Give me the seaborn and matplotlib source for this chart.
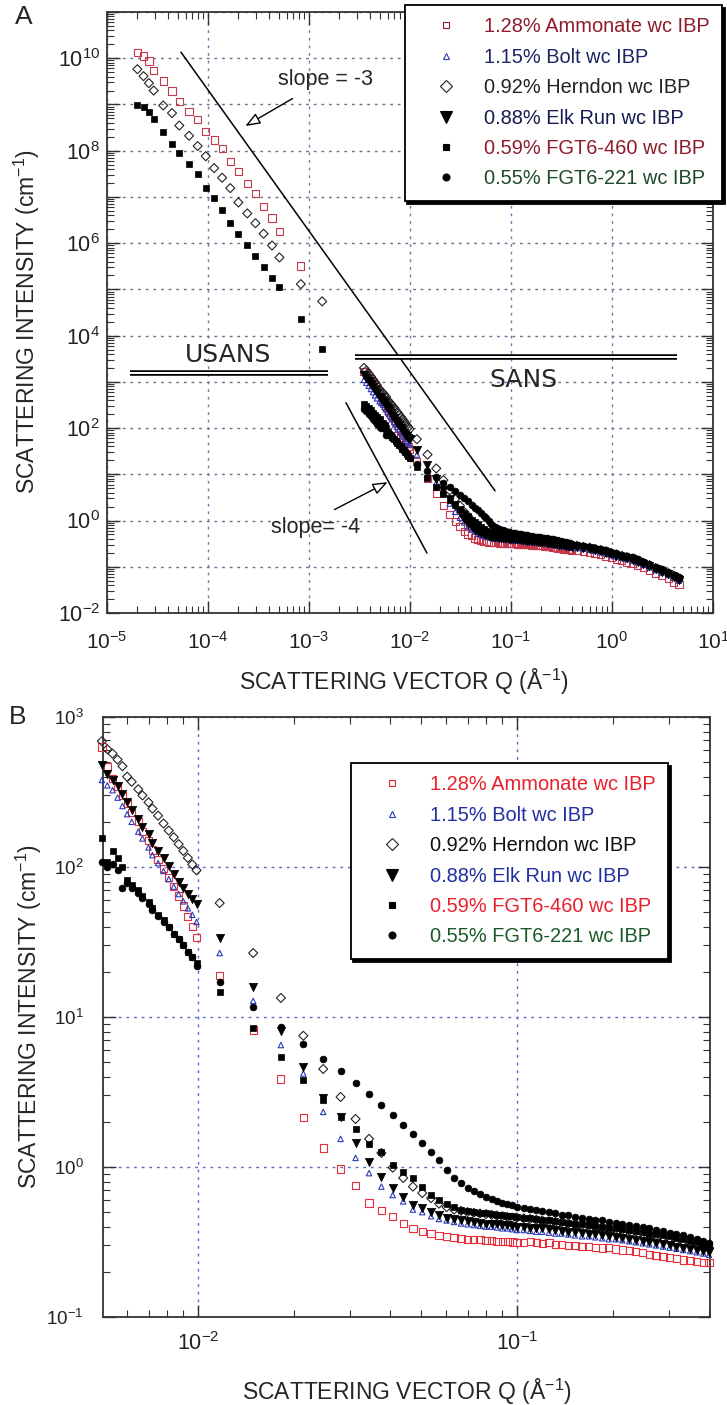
import numpy as np
import pandas as pd
import matplotlib
matplotlib.use("Agg")
import matplotlib.pyplot as plt
import matplotlib.ticker as mticker
from matplotlib.lines import Line2D
import seaborn as sns

# ---------------- data ----------------
series_names = ["1.28% Ammonate wc IBP", "1.15% Bolt wc IBP", "0.92% Herndon wc IBP",
                "0.88% Elk Run wc IBP", "0.59% FGT6-460 wc IBP", "0.55% FGT6-221 wc IBP"]

# SANS scattering vector (1/A) shared by all samples (panel B range)
q_sans = [0.0050, 0.0052, 0.0054, 0.0056, 0.0058, 0.0060, 0.0062, 0.0065, 0.0067, 0.0070,
          0.0072, 0.0075, 0.0078, 0.0081, 0.0084, 0.0087, 0.0090, 0.0093, 0.0096, 0.0099,
          0.0117, 0.0149, 0.0182, 0.0214, 0.0247, 0.0280, 0.0312, 0.0344, 0.0376, 0.0408,
          0.0440, 0.0472, 0.0505, 0.0538, 0.0570, 0.0602, 0.0635, 0.0668, 0.0700, 0.0733,
          0.0766, 0.0800, 0.0833, 0.0866, 0.0900, 0.0933, 0.0966, 0.1000,
          0.105, 0.110, 0.115, 0.120, 0.126, 0.132, 0.138, 0.145, 0.152, 0.160,
          0.168, 0.176, 0.185, 0.194, 0.204, 0.214, 0.225, 0.236, 0.248, 0.260,
          0.273, 0.287, 0.301, 0.316, 0.332, 0.349, 0.366, 0.384, 0.400]

ammonate_sans = [630, 470, 390, 345, 300, 265, 230, 200, 172, 150, 130, 112, 98, 85, 74, 64, 55, 47, 40, 34,
                 19, 8.2, 3.86, 2.15, 1.34, 0.97, 0.75, 0.575, 0.51, 0.47, 0.42, 0.39, 0.37, 0.36, 0.35,
                 0.345, 0.34, 0.335, 0.33, 0.33, 0.327, 0.325, 0.322, 0.32, 0.318, 0.317, 0.316, 0.315,
                 0.315, 0.318, 0.312, 0.31, 0.312, 0.305, 0.303, 0.30, 0.298, 0.295, 0.296, 0.29, 0.288,
                 0.29, 0.284, 0.28, 0.277, 0.272, 0.27, 0.262, 0.258, 0.252, 0.25, 0.244, 0.24, 0.238,
                 0.235, 0.232, 0.23]
bolt_sans = [380, 350, 325, 290, 255, 225, 200, 172, 155, 135, 120, 106, 94, 83, 74, 66, 59, 53, 48, 43,
             26.7, 12.8, 6.5, 4.2, 2.33, 1.54, 1.15, 0.91, 0.74, 0.65, 0.59, 0.52, 0.50, 0.47, 0.45,
             0.44, 0.43, 0.42, 0.415, 0.41, 0.405, 0.40, 0.40, 0.395, 0.39, 0.39, 0.385, 0.38,
             0.38, 0.375, 0.37, 0.37, 0.365, 0.36, 0.36, 0.355, 0.35, 0.345, 0.345, 0.34, 0.335,
             0.33, 0.33, 0.325, 0.32, 0.315, 0.31, 0.305, 0.30, 0.295, 0.29, 0.285, 0.28, 0.275,
             0.27, 0.265, 0.26]
herndon_sans = [690, 610, 570, 520, 470, 400, 370, 330, 300, 270, 245, 220, 195, 175, 158, 142, 128, 115, 104, 95,
                57.5, 26.7, 13.4, 7.5, 4.5, 2.93, 2.09, 1.54, 1.24, 0.99, 0.845, 0.74, 0.67, 0.62, 0.57,
                0.54, 0.52, 0.51, 0.50, 0.495, 0.49, 0.485, 0.48, 0.475, 0.47, 0.465, 0.46, 0.46,
                0.455, 0.45, 0.445, 0.44, 0.435, 0.43, 0.425, 0.42, 0.415, 0.41, 0.405, 0.40, 0.395,
                0.39, 0.385, 0.38, 0.375, 0.37, 0.36, 0.355, 0.35, 0.34, 0.335, 0.325, 0.32, 0.31,
                0.305, 0.30, 0.29]
elkrun_sans = [480, 420, 380, 345, 305, 270, 240, 210, 185, 165, 145, 128, 114, 102, 90, 80, 72, 66, 61, 57,
               33.6, 15.8, 8.1, 4.65, 2.9, 2.15, 1.45, 1.08, 0.86, 0.72, 0.63, 0.56, 0.53, 0.50, 0.48,
               0.46, 0.45, 0.44, 0.435, 0.43, 0.425, 0.42, 0.42, 0.415, 0.41, 0.41, 0.405, 0.40,
               0.40, 0.395, 0.39, 0.39, 0.385, 0.38, 0.375, 0.37, 0.37, 0.365, 0.36, 0.355, 0.35,
               0.345, 0.34, 0.335, 0.33, 0.325, 0.32, 0.315, 0.31, 0.305, 0.30, 0.295, 0.29, 0.285,
               0.28, 0.275, 0.27]
fgt460_sans = [155, 108, 128, 115, 100, 82, 76, 70, 64, 58, 53, 48, 44, 40, 36, 33, 30, 27, 25, 23,
               14.7, 8.45, 5.4, 3.8, 2.8, 2.15, 1.79, 1.42, 1.26, 1.03, 0.93, 0.845, 0.74, 0.65, 0.60,
               0.57, 0.54, 0.52, 0.51, 0.50, 0.495, 0.49, 0.485, 0.48, 0.475, 0.47, 0.47, 0.465,
               0.46, 0.455, 0.45, 0.445, 0.44, 0.435, 0.43, 0.425, 0.42, 0.415, 0.41, 0.405, 0.40,
               0.395, 0.39, 0.385, 0.38, 0.375, 0.37, 0.36, 0.355, 0.35, 0.345, 0.335, 0.33, 0.32,
               0.315, 0.305, 0.30]
fgt221_sans = [108, 100, 104, 96, 72, 78, 72, 67, 62, 57, 52, 47, 43, 40, 36, 33, 30, 27, 25, 22,
               17.1, 11.7, 8.6, 6.6, 5.25, 4.37, 3.63, 3.07, 2.59, 2.22, 1.9, 1.66, 1.45, 1.26, 1.11,
               0.96, 0.85, 0.78, 0.72, 0.69, 0.66, 0.63, 0.61, 0.59, 0.575, 0.565, 0.555, 0.545,
               0.535, 0.525, 0.515, 0.51, 0.50, 0.49, 0.48, 0.475, 0.465, 0.46, 0.45, 0.445, 0.44,
               0.43, 0.425, 0.42, 0.41, 0.405, 0.40, 0.39, 0.38, 0.375, 0.365, 0.36, 0.35, 0.34,
               0.33, 0.32, 0.31]

# extra SANS points shown only in panel A (lower Q)
q_sans_lowA = [0.0035, 0.0037, 0.0039, 0.0041, 0.0043, 0.0045, 0.0047]
ammonate_lowA = [1700, 1450, 1250, 1080, 940, 820, 720]
bolt_lowA = [1100, 950, 820, 700, 600, 510, 440]
herndon_lowA = [2000, 1750, 1500, 1300, 1120, 980, 850]
elkrun_lowA = [1400, 1200, 1020, 880, 760, 650, 560]
fgt460_lowA = [340, 300, 270, 240, 215, 195, 175]
fgt221_lowA = [260, 230, 200, 180, 160, 140, 122]

# extra SANS points shown only in panel A (higher Q)
q_sans_highA = [0.45, 0.52, 0.6, 0.68, 0.77, 0.87, 0.98, 1.1, 1.25, 1.4,
                1.6, 1.8, 2.05, 2.35, 2.7, 3.1, 3.6, 4.1, 4.6]
ammonate_highA = [0.225, 0.215, 0.205, 0.195, 0.183, 0.17, 0.158, 0.146, 0.136, 0.127,
                  0.118, 0.107, 0.095, 0.084, 0.073, 0.064, 0.055, 0.047, 0.041]
bolt_highA = [0.255, 0.245, 0.233, 0.22, 0.207, 0.193, 0.18, 0.168, 0.156, 0.146,
              0.136, 0.124, 0.11, 0.097, 0.085, 0.075, 0.066, 0.058, 0.05]
herndon_highA = [0.285, 0.27, 0.26, 0.245, 0.23, 0.215, 0.20, 0.185, 0.172, 0.162,
                 0.15, 0.137, 0.122, 0.108, 0.094, 0.083, 0.073, 0.064, 0.056]
elkrun_highA = [0.265, 0.255, 0.243, 0.23, 0.215, 0.2, 0.188, 0.175, 0.162, 0.152,
                0.142, 0.13, 0.116, 0.102, 0.089, 0.079, 0.069, 0.061, 0.053]
fgt460_highA = [0.29, 0.275, 0.262, 0.248, 0.233, 0.218, 0.203, 0.19, 0.175, 0.165,
                0.153, 0.14, 0.125, 0.11, 0.096, 0.085, 0.075, 0.066, 0.058]
fgt221_highA = [0.30, 0.285, 0.27, 0.255, 0.24, 0.225, 0.21, 0.195, 0.18, 0.17,
                0.16, 0.145, 0.13, 0.115, 0.10, 0.088, 0.078, 0.068, 0.06]

# USANS data (panel A)
q_usans = [2.0e-5, 2.3e-5, 2.6e-5, 2.9e-5, 3.6e-5, 4.4e-5, 5.2e-5, 6.5e-5, 7.9e-5, 9.5e-5,
           1.15e-4, 1.38e-4, 1.66e-4, 2.0e-4, 2.45e-4, 2.95e-4, 3.55e-4, 4.3e-4, 5.1e-4, 8.3e-4, 1.35e-3]
ammonate_usans = [1.35e10, 1.12e10, 8.7e9, 5.5e9, 3.2e9, 1.95e9, 1.17e9, 7.1e8, 4.8e8, 2.6e8,
                  1.7e8, 1.12e8, 5.9e7, 3.5e7, 1.95e7, 1.2e7, 6.3e6, 3.5e6, 1.8e6, 3.2e5]
herndon_usans = [5.8e9, 4.1e9, 2.9e9, 2.0e9, 9.5e8, 6.5e8, 3.5e8, 2.1e8, 1.26e8, 7.6e7,
                 4.2e7, 2.6e7, 1.55e7, 7.6e6, 4.4e6, 2.7e6, 1.6e6, 8.9e5, 4.9e5, 1.3e5, 5.5e4]
fgt460_usans = [9.5e8, 8.7e8, 6.8e8, 4.8e8, 2.5e8, 1.38e8, 8.7e7, 5.1e7, 3.1e7, 1.55e7,
                9.3e6, 5.1e6, 2.7e6, 1.6e6, 9.3e5, 5.4e5, 3.0e5, 1.75e5, 1.15e5, 2.3e4, 5.2e3]

# axis decades
a_x_decades = [1e-5, 1e-4, 1e-3, 1e-2, 1e-1, 1e0, 1e1]
a_y_decades = [1e-2, 1e-1, 1e0, 1e1, 1e2, 1e3, 1e4, 1e5, 1e6, 1e7, 1e8, 1e9, 1e10, 1e11]
b_x_decades = [1e-2, 1e-1]
b_y_decades = [1e-1, 1e0, 1e1, 1e2, 1e3]

# ---------------- tidy frames ----------------
sans_lists = [ammonate_sans, bolt_sans, herndon_sans, elkrun_sans, fgt460_sans, fgt221_sans]
lowA_lists = [ammonate_lowA, bolt_lowA, herndon_lowA, elkrun_lowA, fgt460_lowA, fgt221_lowA]
highA_lists = [ammonate_highA, bolt_highA, herndon_highA, elkrun_highA, fgt460_highA, fgt221_highA]
usans_lists = {0: ammonate_usans, 2: herndon_usans, 4: fgt460_usans}

rows_b = []
rows_a = []
for i, name in enumerate(series_names):
    for q, v in zip(q_sans, sans_lists[i]):
        rows_b.append((name, q, v))
        rows_a.append((name, q, v))
    for q, v in zip(q_sans_lowA, lowA_lists[i]):
        rows_a.append((name, q, v))
    for q, v in zip(q_sans_highA, highA_lists[i]):
        rows_a.append((name, q, v))
    if i in usans_lists:
        for q, v in zip(q_usans, usans_lists[i]):
            rows_a.append((name, q, v))
df_a = pd.DataFrame(rows_a, columns=["sample", "Q", "I"])
df_b = pd.DataFrame(rows_b, columns=["sample", "Q", "I"])

# ---------------- styling ----------------
sns.set_style("ticks")
plt.rcParams["font.family"] = ["Liberation Sans", "DejaVu Sans"]
plt.rcParams["mathtext.fontset"] = "custom"
plt.rcParams["mathtext.rm"] = "Liberation Sans"
plt.rcParams["mathtext.it"] = "Liberation Sans:italic"
plt.rcParams["mathtext.bf"] = "Liberation Sans:bold"

red_a = "#c8384c"
red_b = "#e8303c"
blue = "#2a3cb8"
marker_styles = {
    series_names[0]: dict(marker="s", s=27, facecolor="none", linewidth=0.8),
    series_names[1]: dict(marker="^", s=15, facecolor="none", linewidth=0.8),
    series_names[2]: dict(marker="D", s=21, facecolor="none", edgecolor="#222222", linewidth=0.8),
    series_names[3]: dict(marker="v", s=36, facecolor="black", edgecolor="black", linewidth=0.5),
    series_names[4]: dict(marker="s", s=22, facecolor="black", edgecolor="black", linewidth=0.5),
    series_names[5]: dict(marker="o", s=24, facecolor="black", edgecolor="black", linewidth=0.5),
}
legend_colors_a = ["#8e1c2c", "#1c2464", "#222222", "#161c52", "#8e1c2c", "#1f4a28"]
legend_colors_b = ["#e8202e", "#1f2fa0", "#111111", "#1f2fa0", "#e8202e", "#1a5a28"]

W, H = 727, 1405
fig = plt.figure(figsize=(W / 100, H / 100), dpi=100)
ax_a = fig.add_axes([107 / W, 1 - 613 / H, 606 / W, 601 / H])
ax_b = fig.add_axes([103 / W, 1 - 1317 / H, 607 / W, 600 / H])


def draw(ax, df, red):
    for name in series_names:
        st = dict(marker_styles[name])
        if name == series_names[0]:
            st["edgecolor"] = red
        if name == series_names[1]:
            st["edgecolor"] = blue
        sub = df[df["sample"] == name]
        sns.scatterplot(data=sub, x="Q", y="I", ax=ax, legend=False, clip_on=False, zorder=3, **st)


def sci(v, pos):
    e = int(round(np.log10(v)))
    return r"$\mathdefault{10^{%d}}$" % e


def sci_even(v, pos):
    e = int(round(np.log10(v)))
    return r"$\mathdefault{10^{%d}}$" % e if e % 2 == 0 else ""


def style_axes(ax, xgrid_color, ygrid_color, xdec, ydec):
    ax.set_xscale("log")
    ax.set_yscale("log")
    ax.xaxis.set_major_locator(mticker.FixedLocator(xdec))
    ax.yaxis.set_major_locator(mticker.FixedLocator(ydec))
    ax.xaxis.set_minor_locator(mticker.LogLocator(base=10, subs=np.arange(2, 10), numticks=40))
    ax.yaxis.set_minor_locator(mticker.LogLocator(base=10, subs=np.arange(2, 10), numticks=40))
    ax.xaxis.set_minor_formatter(mticker.NullFormatter())
    ax.yaxis.set_minor_formatter(mticker.NullFormatter())
    ax.tick_params(which="both", direction="in", top=True, right=True, colors="#333333",
                   labelcolor="#222222", labelsize=15)
    ax.tick_params(which="major", length=9, width=1.0)
    ax.tick_params(which="minor", length=5, width=0.8)
    ax.xaxis.grid(True, which="major", linestyle=(0, (2, 3.5)), color=xgrid_color, linewidth=1.0)
    ax.yaxis.grid(True, which="major", linestyle=(0, (2, 3.5)), color=ygrid_color, linewidth=1.0)
    ax.set_axisbelow(True)
    for sp in ax.spines.values():
        sp.set_linewidth(1.3)
        sp.set_color("#333333")


def add_legend(ax, anchor, colors):
    handles = []
    for name in series_names:
        st = marker_styles[name]
        ec = st.get("edgecolor", "black")
        if name == series_names[0]:
            ec = colors[0]
        if name == series_names[1]:
            ec = blue
        fc = st["facecolor"]
        ms = {"s": 5, "^": 5, "D": 6, "v": 8, "o": 5}[st["marker"]]
        handles.append(Line2D([], [], linestyle="none", marker=st["marker"], markersize=ms,
                              markerfacecolor=fc, markeredgecolor=ec, markeredgewidth=0.8))
    leg = ax.legend(handles, series_names, loc="upper right", bbox_to_anchor=anchor,
                    bbox_transform=fig.transFigure, borderaxespad=0, fontsize=14.4,
                    frameon=True, fancybox=False, edgecolor="black", framealpha=1,
                    shadow={"color": "black", "alpha": 1}, borderpad=0.62,
                    handlelength=2.9, handletextpad=0.45, labelspacing=0.57)
    leg.get_frame().set_linewidth(1.3)
    for t, c in zip(leg.get_texts(), colors):
        t.set_color(c)
    leg.set_zorder(10)
    return leg


# ---------------- panel A ----------------
draw(ax_a, df_a, red_a)
style_axes(ax_a, "#6a7ab8", "#6c7088", a_x_decades, a_y_decades)
ax_a.set_xlim(1e-5, 10)
ax_a.set_ylim(1e-2, 1e11)
ax_a.xaxis.set_major_formatter(mticker.FuncFormatter(sci))
ax_a.yaxis.set_major_formatter(mticker.FuncFormatter(sci_even))
ax_a.tick_params(axis="x", which="major", pad=13)
ax_a.tick_params(axis="y", which="major", pad=5, labelsize=15.5)
ax_a.set_xlabel(r"SCATTERING VECTOR Q (Å$^{-1}$)", fontsize=16.5)
ax_a.set_ylabel(r"SCATTERING INTENSITY (cm$^{-1}$)", fontsize=16.5)
ax_a.xaxis.set_label_coords(0.49, (613 - 667) / 601)
ax_a.yaxis.set_label_coords((42 - 107) / 606, 0.485)

# slope guide lines and annotations
slope3_q = [5.4e-5, 0.0695]
slope3_i = [1.35e10, 4.4]
slope4_q = [2.32e-3, 0.0147]
slope4_i = [354, 0.199]
ax_a.plot(slope3_q, slope3_i, color="black", lw=1.1, zorder=4)
ax_a.plot(slope4_q, slope4_i, color="black", lw=1.1, zorder=4)
ax_a.text(1.45e-3, 3.4e9, "slope = -3", fontsize=15.5, ha="center", va="center")
ax_a.annotate("", xy=(2.22e-4, 3.2e8), xytext=(7.26e-4, 1.44e9),
              arrowprops=dict(arrowstyle="-|>,head_length=0.9,head_width=0.35", fc="white",
                              ec="black", lw=1.0))
ax_a.text(1.15e-3, 0.69, "slope= -4", fontsize=15.5, ha="center", va="center")
ax_a.annotate("", xy=(6.34e-3, 7.2), xytext=(1.69e-3, 1.62),
              arrowprops=dict(arrowstyle="-|>,head_length=0.9,head_width=0.35", fc="white",
                              ec="black", lw=1.0))
# USANS / SANS double rules
ax_a.plot([1.69e-5, 1.54e-3], [1580, 1580], color="black", lw=4.0, solid_capstyle="butt", zorder=4)
ax_a.plot([1.69e-5, 1.54e-3], [1580, 1580], color="white", lw=1.4, solid_capstyle="butt", zorder=4.5)
ax_a.plot([2.85e-3, 4.4], [3420, 3420], color="black", lw=4.0, solid_capstyle="butt", zorder=4)
ax_a.plot([2.85e-3, 4.4], [3420, 3420], color="white", lw=1.4, solid_capstyle="butt", zorder=4.5)
ax_a.text(1.58e-4, 3900, "USANS", fontsize=18, ha="center", va="center", family="DejaVu Sans")
ax_a.text(0.1315, 1070, "SANS", fontsize=18, ha="center", va="center", family="DejaVu Sans")
add_legend(ax_a, (722 / W, 1 - 5 / H), legend_colors_a)
fig.text(24 / W, 1 - 17 / H, "A", fontsize=19, ha="center", va="center")

# ---------------- panel B ----------------
draw(ax_b, df_b, red_b)
style_axes(ax_b, "#5a6ad0", "#5a6ad0", b_x_decades, b_y_decades)
ax_b.set_xlim(0.00504, 0.403)
ax_b.set_ylim(0.1, 1000)
ax_b.xaxis.set_major_formatter(mticker.FuncFormatter(sci))
ax_b.yaxis.set_major_formatter(mticker.FuncFormatter(sci))
ax_b.tick_params(axis="x", which="major", pad=11, labelsize=15.5)
ax_b.tick_params(axis="y", which="major", pad=14, labelsize=13.5)
ax_b.set_xlabel(r"SCATTERING VECTOR Q (Å$^{-1}$)", fontsize=16.5)
ax_b.set_ylabel(r"SCATTERING INTENSITY (cm$^{-1}$)", fontsize=16.5)
ax_b.xaxis.set_label_coords(0.5, (1317 - 1377) / 600)
ax_b.yaxis.set_label_coords((44 - 103) / 607, 0.5)
add_legend(ax_b, (668 / W, 1 - 763 / H), legend_colors_b)
fig.text(18 / W, 1 - 717 / H, "B", fontsize=19, ha="center", va="center")

fig.savefig("out.png", dpi=100)
